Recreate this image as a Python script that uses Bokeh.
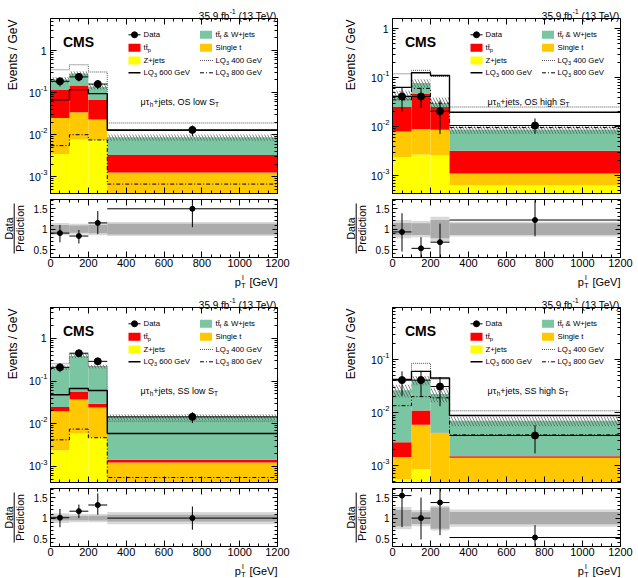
import math
import numpy as np
from bokeh.plotting import figure
from bokeh.layouts import row, column
from bokeh.models import Range1d, LogAxis, LinearAxis, FixedTicker, Label, Grid
from bokeh.embed import file_html
from bokeh.resources import INLINE

# ---------------- binning and axis ticks ----------------
bin_edges = [0, 100, 200, 300, 1200]
x_ticks = [0, 200, 400, 600, 800, 1000, 1200]
x_minor_ticks = list(range(0, 1201, 50))
ratio_ticks = [0.5, 1.0, 1.5]
ratio_tick_labels = ["0.5", "1", "1.5"]
ratio_minor_ticks = [0.4, 0.6, 0.7, 0.8, 0.9, 1.1, 1.2, 1.3, 1.4, 1.6, 1.7]

# ---------------- mu tau_h + jets, OS low S_T (events / GeV) ----------------
oslow_zjets = [3.5e-3, 7.7e-3, 7.5e-3, 2.0e-4]
oslow_singlet = [0.0215, 0.0263, 0.0155, 1.06e-3]
oslow_ttp = [0.091, 0.113, 0.044, 2.04e-3]
oslow_ttf_w = [0.090, 0.138, 0.072, 5.4e-3]
oslow_data = [0.186, 0.237, 0.160, 0.0130]
oslow_data_lo = [0.140, 0.185, 0.122, 0.0091]
oslow_data_hi = [0.227, 0.279, 0.200, 0.0165]
oslow_unc_tot = [0.15, 0.13, 0.15, 0.17]
oslow_unc_stat = [0.10, 0.09, 0.10, 0.13]
oslow_lq400 = [0.35, 0.46, 0.31, 0.019]
oslow_lq600 = [0.068, 0.118, 0.095, 0.0128]
oslow_lq800 = [0.0055, 0.010, 0.0075, 6.7e-4]

# ---------------- mu tau_h + jets, OS high S_T ----------------
oshigh_zjets = [2.35e-3, 2.7e-3, 2.6e-3, 6.3e-4]
oshigh_singlet = [5.55e-3, 6.2e-3, 6.0e-3, 4.7e-4]
oshigh_ttp = [0.0171, 0.0371, 0.0164, 2.1e-3]
oshigh_ttf_w = [0.019, 0.031, 0.005, 5.4e-3]
oshigh_data = [0.041, 0.041, 0.0205, 0.0105]
oshigh_data_lo = [0.020, 0.024, 0.007, 0.0071]
oshigh_data_hi = [0.061, 0.062, 0.034, 0.0146]
oshigh_unc_tot = [0.22, 0.20, 0.30, 0.18]
oshigh_unc_stat = [0.15, 0.14, 0.22, 0.14]
oshigh_lq400 = [0.119, 0.14, 0.105, 0.025]
oshigh_lq600 = [0.063, 0.125, 0.11, 0.0195]
oshigh_lq800 = [0.035, 0.060, 0.030, 0.0095]

# ---------------- mu tau_h + jets, SS low S_T ----------------
sslow_zjets = [2.4e-3, 5.9e-3, 4.7e-3, 2.0e-4]
sslow_singlet = [0.0171, 0.0311, 0.0193, 1.03e-3]
sslow_ttp = [5.1e-3, 0.020, 5.5e-3, 2.1e-4]
sslow_ttf_w = [0.1834, 0.328, 0.1905, 0.01306]
sslow_data = [0.210, 0.450, 0.290, 0.0145]
sslow_data_lo = [0.162, 0.385, 0.238, 0.0104]
sslow_data_hi = [0.254, 0.512, 0.352, 0.0186]
sslow_unc_tot = [0.12, 0.10, 0.10, 0.15]
sslow_unc_stat = [0.06, 0.05, 0.06, 0.08]
sslow_lq400 = [0.255, 0.43, 0.22, 0.0115]
sslow_lq600 = [0.048, 0.067, 0.060, 5.9e-3]
sslow_lq800 = [4.2e-3, 7.5e-3, 4.7e-3, 5.5e-4]

# ---------------- mu tau_h + jets, SS high S_T ----------------
sshigh_zjets = [5.5e-4, 8.5e-4, 3.0e-4, 2.0e-4]
sshigh_singlet = [9.0e-4, 5.05e-3, 3.8e-3, 1.2e-3]
sshigh_ttp = [1.3e-3, 5.1e-3, 5.0e-5, 1.0e-4]
sshigh_ttf_w = [0.02375, 0.030, 0.01835, 5.5e-3]
sshigh_data = [0.041, 0.041, 0.031, 0.0037]
sshigh_data_lo = [0.0207, 0.0197, 0.0132, 0.0017]
sshigh_data_hi = [0.060, 0.0615, 0.047, 0.0058]
sshigh_unc_tot = [0.27, 0.20, 0.30, 0.21]
sshigh_unc_stat = [0.20, 0.14, 0.26, 0.15]
sshigh_lq400 = [0.040, 0.085, 0.043, 0.0108]
sshigh_lq600 = [0.042, 0.060, 0.045, 0.0088]
sshigh_lq800 = [0.0135, 0.020, 0.019, 3.8e-3]

# ---------------- styling ----------------
FONT = "Liberation Sans"
FRAME_H = 175          # height of the log-scale plotting box
TOP_PAD, BOT_PAD = 18, 3
RATIO_H = 58           # height of the ratio box
R_TOP_PAD, R_BOT_PAD = 3, 32
RATIO_RANGE = (0.31, 1.72)
COL_Z = "#ffff00"
COL_ST = "#ffc800"
COL_TTP = "#ff0000"
COL_TTF = "#7ac5a2"
BAND_LIGHT = "#d9d9d9"
BAND_DARK = "#ababab"

ARIAL = {' ': 278, '&': 667, '(': 333, ')': 333, '+': 584, ',': 278, '-': 333, '.': 278,
         '/': 278, '[': 278, ']': 278, 'μ': 577, 'τ': 440, '\u0304': 0}
for c in "0123456789":
    ARIAL[c] = 556
ARIAL.update(dict(zip("ABCDEFGHIJKLMNOPQRSTUVWXYZ",
                      [667, 667, 722, 722, 667, 611, 778, 722, 278, 500, 667, 556, 833,
                       722, 778, 667, 778, 722, 667, 611, 722, 667, 944, 667, 667, 611])))
ARIAL.update(dict(zip("abcdefghijklmnopqrstuvwxyz",
                      [556, 556, 500, 556, 556, 278, 556, 556, 222, 222, 500, 222, 833,
                       556, 556, 556, 556, 333, 500, 278, 556, 500, 722, 500, 500, 500])))


def tw(s, size):
    return sum(ARIAL.get(c, 556) for c in s) * size / 1000.0


def label(fig, x, y, dx, dy, text, size, align="left", baseline="alphabetic",
          bold=False, angle=0.0):
    fig.add_layout(Label(x=x, y=y, x_offset=dx, y_offset=-dy, text=text,
                         text_font=FONT, text_font_size=f"{size:.2f}px",
                         text_font_style="bold" if bold else "normal",
                         text_align=align, text_baseline=baseline, angle=angle,
                         text_color="black"))


def rich(fig, x, y, dx, dy, parts, size, align="left", baseline="alphabetic"):
    """Text made of normal / subscript / superscript pieces, laid out left to right."""
    small = size * 0.72
    sizes = [size if k == "n" else small for _, k in parts]
    widths = [tw(t, s) for (t, _), s in zip(parts, sizes)]
    cur = dx - (sum(widths) if align == "right" else 0.0)
    for (t, k), s, w in zip(parts, sizes, widths):
        lead = len(t) - len(t.lstrip(" "))
        shift = 0.0 if k == "n" else (0.28 * size if k == "sub" else -0.42 * size)
        label(fig, x, y, cur + tw(" " * lead, s), dy + shift, t.strip(" "), s,
              baseline=baseline)
        cur += w


def box_axis(fig, side, loc, bounds, ticker, log=False, labels=False, tick_in=6,
             font_size="10px", standoff=0, overrides=None):
    cls = LogAxis if log else LinearAxis
    ax = cls(ticker=ticker, fixed_location=loc, bounds=bounds, major_tick_in=tick_in,
             major_tick_out=0, minor_tick_in=3, minor_tick_out=0,
             axis_line_color="black", axis_line_width=1,
             major_tick_line_color="black", minor_tick_line_color="black",
             major_label_text_font=FONT, major_label_text_font_size=font_size,
             major_label_standoff=standoff,
             major_label_text_color="black" if labels else None)
    if overrides:
        ax.major_label_overrides = overrides
    fig.add_layout(ax, side)


def bare_figure(width, height, x_range, y_range, log=False):
    p = figure(width=width, height=height, x_range=x_range, y_range=y_range,
               y_axis_type="log" if log else "linear", x_axis_location=None,
               y_axis_location=None, toolbar_location=None, output_backend="svg",
               title=None, min_border=0, min_border_left=0, min_border_right=0,
               min_border_top=0, min_border_bottom=0)
    p.center = [c for c in p.center if not isinstance(c, Grid)]
    p.outline_line_color = None
    p.background_fill_color = "white"
    p.border_fill_color = "white"
    return p


def make_panel(chan, ylo, yhi, z, st, ttp, ttf, data, dlo, dhi, utot, ustat,
               lq4, lq6, lq8, left_b, right_b, frame_w, chan_dx, title_dx):
    lefts = np.array(bin_edges[:-1], float)
    rights = np.array(bin_edges[1:], float)
    centers = 0.5 * (lefts + rights)
    width = left_b + frame_w + right_b
    gev_per_px = 1200.0 / frame_w
    x_range = Range1d(-left_b * gev_per_px, 1200 + right_b * gev_per_px)
    lylo, lyhi = math.log10(ylo), math.log10(yhi)
    dec_per_px = (lyhi - lylo) / FRAME_H

    def px2x(px):
        return px * gev_per_px

    def py2y(py):
        return 10 ** (lyhi - py * dec_per_px)

    p = bare_figure(width, TOP_PAD + FRAME_H + BOT_PAD, x_range,
                    Range1d(10 ** (lylo - BOT_PAD * dec_per_px),
                            10 ** (lyhi + TOP_PAD * dec_per_px)), log=True)

    # stacked backgrounds, cut at the bottom of the axis
    prev = np.zeros(4)
    for vals, col in [(z, COL_Z), (st, COL_ST), (ttp, COL_TTP), (ttf, COL_TTF)]:
        cum = prev + np.array(vals)
        p.quad(left=lefts, right=rights, bottom=np.maximum(prev, ylo),
               top=np.maximum(cum, ylo), fill_color=col, line_color=None)
        prev = cum
    total = prev
    utot_a = np.array(utot)
    p.quad(left=lefts, right=rights, bottom=total * (1 - utot_a), top=total * (1 + utot_a),
           fill_color=None, fill_alpha=0, line_color=None, hatch_pattern="\\",
           hatch_color="#555555", hatch_scale=6, hatch_weight=0.7)

    # signal step lines
    xs = np.repeat(bin_edges, 2)[1:-1]
    p.line(xs, np.repeat(lq4, 2), line_color="#555555", line_dash="1 1", line_width=1)
    p.line(xs, np.repeat(lq6, 2), line_color="black", line_width=1.4)
    p.line(xs, np.repeat(lq8, 2), line_color="black", line_dash="4 2 1 2", line_width=1)

    # data
    p.segment(x0=centers, x1=centers, y0=np.clip(dlo, ylo, yhi), y1=np.clip(dhi, ylo, yhi),
              line_color="black", line_width=1)
    p.segment(x0=lefts, x1=rights, y0=data, y1=data, line_color="black", line_width=1)
    p.scatter(centers, data, size=7, color="black")

    # box with ticks on all four sides
    dec = [10.0 ** k for k in range(-5, 2) if ylo <= 10.0 ** k <= yhi]
    minors = [m * 10.0 ** k for k in range(-5, 1) for m in range(2, 10)
              if ylo <= m * 10.0 ** k <= yhi]
    box_axis(p, "left", 0, (ylo, yhi), FixedTicker(ticks=dec, minor_ticks=minors), log=True)
    box_axis(p, "right", 1200, (ylo, yhi), FixedTicker(ticks=dec, minor_ticks=minors),
             log=True)
    box_axis(p, "below", ylo, (0, 1200), FixedTicker(ticks=x_ticks, minor_ticks=x_minor_ticks))
    box_axis(p, "above", yhi, (0, 1200), FixedTicker(ticks=x_ticks, minor_ticks=x_minor_ticks))

    # y tick labels
    for d in dec:
        k = int(round(math.log10(d)))
        if k == 0:
            label(p, 0, d, -4, 0, "1", 10.5, align="right", baseline="middle")
        else:
            rich(p, 0, d, -3, 0, [("10", "n"), (str(k), "sup")], 10.5, align="right",
                 baseline="middle")
    label(p, 0, yhi, title_dx, 1, "Events / GeV", 12, align="right", baseline="middle",
          angle=math.pi / 2)

    # header texts
    label(p, 0, yhi, 12.5, 23, "CMS", 14, bold=True)
    rich(p, 1200, yhi, 0, -2.5, [("35.9 fb", "n"), ("-1", "sup"), (" (13 TeV)", "n")],
         10, align="right")
    rich(p, 0, yhi, chan_dx, 83.3,
         [("μτ", "n"), ("h", "sub"), (f"+jets, {chan} S", "n"), ("T", "sub")], 9)

    # legend
    rows_y = [16.3, 29.3, 42.0, 54.3]
    fs = 7.8
    c1b, c1t, c2b, c2t = 78.0, 93.0, 149.5, 165.0
    p.line([px2x(c1b), px2x(c1b + 12)], [py2y(rows_y[0])] * 2, line_color="black")
    p.scatter([px2x(c1b + 6)], [py2y(rows_y[0])], size=6, color="black")
    for (bx, ry, col) in [(c1b, rows_y[1], COL_TTP), (c1b, rows_y[2], COL_Z),
                          (c2b, rows_y[0], COL_TTF), (c2b, rows_y[1], COL_ST)]:
        p.quad(left=px2x(bx), right=px2x(bx + 12), top=py2y(ry - 4), bottom=py2y(ry + 4),
               fill_color=col, line_color=None)
    p.line([px2x(c1b), px2x(c1b + 12)], [py2y(rows_y[3])] * 2, line_color="black",
           line_width=1.4)
    p.line([px2x(c2b), px2x(c2b + 13)], [py2y(rows_y[2])] * 2, line_color="#555555",
           line_dash="1 1")
    p.line([px2x(c2b), px2x(c2b + 13)], [py2y(rows_y[3])] * 2, line_color="black",
           line_dash="4 2 1 2")
    label(p, 0, yhi, c1t, rows_y[0], "Data", fs, baseline="middle")
    rich(p, 0, yhi, c1t, rows_y[1], [("tt\u0304", "n"), ("p", "sub")], fs, baseline="middle")
    label(p, 0, yhi, c1t, rows_y[2], "Z+jets", fs, baseline="middle")
    rich(p, 0, yhi, c1t, rows_y[3], [("LQ", "n"), ("3", "sub"), (" 600 GeV", "n")], fs,
         baseline="middle")
    rich(p, 0, yhi, c2t, rows_y[0], [("tt\u0304", "n"), ("f", "sub"), (" & W+jets", "n")],
         fs, baseline="middle")
    label(p, 0, yhi, c2t, rows_y[1], "Single t", fs, baseline="middle")
    rich(p, 0, yhi, c2t, rows_y[2], [("LQ", "n"), ("3", "sub"), (" 400 GeV", "n")], fs,
         baseline="middle")
    rich(p, 0, yhi, c2t, rows_y[3], [("LQ", "n"), ("3", "sub"), (" 800 GeV", "n")], fs,
         baseline="middle")

    # ---------------- ratio pad ----------------
    rmin, rmax = RATIO_RANGE
    per_px = (rmax - rmin) / RATIO_H
    r = bare_figure(width, R_TOP_PAD + RATIO_H + R_BOT_PAD,
                    Range1d(x_range.start, x_range.end),
                    Range1d(rmin - R_BOT_PAD * per_px, rmax + R_TOP_PAD * per_px))
    ustat_a = np.array(ustat)
    r.quad(left=lefts, right=rights, bottom=1 - utot_a, top=1 + utot_a,
           fill_color=BAND_LIGHT, line_color=None)
    r.quad(left=lefts, right=rights, bottom=1 - ustat_a, top=1 + ustat_a,
           fill_color=BAND_DARK, line_color=None)
    ratio = np.array(data) / total
    r.segment(x0=centers, x1=centers, y0=np.clip(np.array(dlo) / total, rmin, rmax),
              y1=np.clip(np.array(dhi) / total, rmin, rmax), line_color="black", line_width=1)
    r.segment(x0=lefts, x1=rights, y0=ratio, y1=ratio, line_color="black", line_width=1)
    r.scatter(centers, ratio, size=5, color="black")

    box_axis(r, "below", rmin, (0, 1200), FixedTicker(ticks=x_ticks, minor_ticks=x_minor_ticks),
             labels=True, font_size="11px", standoff=1)
    box_axis(r, "left", 0, (rmin, rmax),
             FixedTicker(ticks=ratio_ticks, minor_ticks=ratio_minor_ticks), labels=True,
             tick_in=5, font_size="10px", standoff=3,
             overrides=dict(zip(ratio_ticks, ratio_tick_labels)))
    box_axis(r, "right", 1200, (rmin, rmax),
             FixedTicker(ticks=ratio_ticks, minor_ticks=ratio_minor_ticks), tick_in=5)
    box_axis(r, "above", rmax, (0, 1200), FixedTicker(ticks=x_ticks, minor_ticks=x_minor_ticks))

    rmid = 0.5 * (rmin + rmax)
    label(r, 0, rmid, -42, 0, "Data", 10.5, align="center", baseline="middle",
          angle=math.pi / 2)
    label(r, 0, rmid, -30.5, 0, "Prediction", 10.5, align="center", baseline="middle",
          angle=math.pi / 2)
    r.segment(x0=[px2x(-36.3)], x1=[px2x(-36.3)], y0=[rmid - 25 * per_px],
              y1=[rmid + 25 * per_px], line_color="black", line_width=1)

    # x-axis title
    gw = tw(" [GeV]", 11)
    label(r, 1200, rmin, 0, 24.7, "[GeV]", 11, align="right")
    label(r, 1200, rmin, -gw - 5.2, 24.7 + 2.8, "T", 7.9)
    label(r, 1200, rmin, -gw - 4.4, 24.7 - 5.0, "l", 7.9)
    label(r, 1200, rmin, -gw - 5.4, 24.7, "p", 11, align="right")

    return column(p, r)


panel_os_low = make_panel("OS low", 4.0e-4, 5.8, oslow_zjets, oslow_singlet, oslow_ttp,
                          oslow_ttf_w, oslow_data, oslow_data_lo, oslow_data_hi,
                          oslow_unc_tot, oslow_unc_stat, oslow_lq400, oslow_lq600,
                          oslow_lq800, 50, 42, 227, 90, -38)
panel_os_high = make_panel("OS high", 4.3e-4, 1.6, oshigh_zjets, oshigh_singlet, oshigh_ttp,
                           oshigh_ttf_w, oshigh_data, oshigh_data_lo, oshigh_data_hi,
                           oshigh_unc_tot, oshigh_unc_stat, oshigh_lq400, oshigh_lq600,
                           oshigh_lq800, 73, 18, 228, 95, -42)
panel_ss_low = make_panel("SS low", 4.2e-4, 5.3, sslow_zjets, sslow_singlet, sslow_ttp,
                          sslow_ttf_w, sslow_data, sslow_data_lo, sslow_data_hi,
                          sslow_unc_tot, sslow_unc_stat, sslow_lq400, sslow_lq600,
                          sslow_lq800, 50, 42, 227, 90, -38)
panel_ss_high = make_panel("SS high", 4.8e-4, 0.96, sshigh_zjets, sshigh_singlet, sshigh_ttp,
                           sshigh_ttf_w, sshigh_data, sshigh_data_lo, sshigh_data_hi,
                           sshigh_unc_tot, sshigh_unc_stat, sshigh_lq400, sshigh_lq600,
                           sshigh_lq800, 73, 18, 228, 95, -42)

layout = column(row(panel_os_low, panel_os_high), row(panel_ss_low, panel_ss_high))

with open("out.html", "w") as f:
    f.write(file_html(layout, INLINE, title="LQ search, mu tau_h + jets"))
